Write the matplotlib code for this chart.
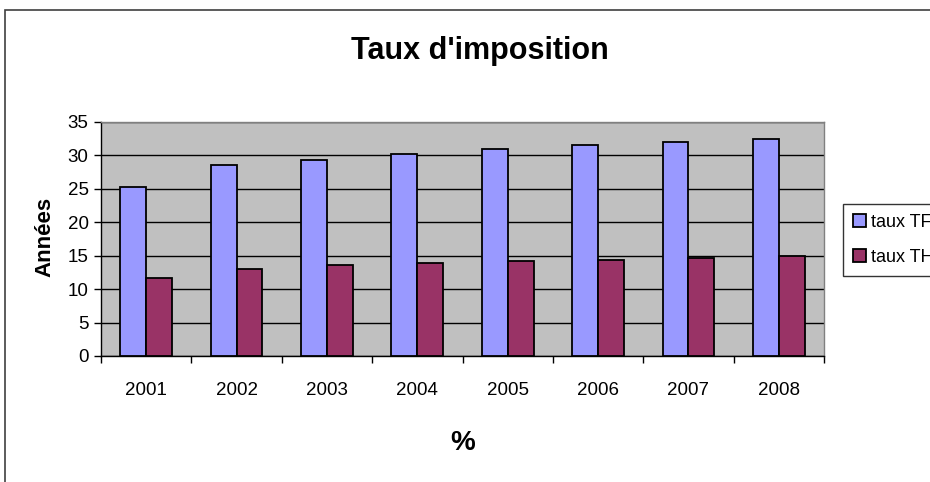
import matplotlib
matplotlib.use("Agg")
import matplotlib.pyplot as plt
from matplotlib.patches import Rectangle
import numpy as np

plt.rcParams['font.family'] = ['Liberation Sans', 'DejaVu Sans']

years = ["2001", "2002", "2003", "2004", "2005", "2006", "2007", "2008"]
taux_tf = [25.3, 28.5, 29.3, 30.2, 30.9, 31.5, 32.0, 32.5]
taux_th = [11.7, 13.0, 13.6, 13.9, 14.2, 14.4, 14.7, 15.0]
series_names = ["taux TF", "taux TH"]
yticks = [0, 5, 10, 15, 20, 25, 30, 35]

W, H = 930, 482
fig = plt.figure(figsize=(W / 100, H / 100), dpi=100)
fig.patch.set_facecolor("white")

ax = fig.add_axes([101 / W, 1 - 356 / H, (824 - 101) / W, (356 - 122) / H])
ax.set_facecolor("#C0C0C0")

x = np.arange(len(years))
bw = 1 / 3.5
ax.bar(x - bw / 2, taux_tf, width=bw, color="#9999FF", edgecolor="black", linewidth=1.3, label=series_names[0], zorder=3)
ax.bar(x + bw / 2, taux_th, width=bw, color="#993366", edgecolor="black", linewidth=1.3, label=series_names[1], zorder=3)

ax.set_xlim(-0.5, len(years) - 0.5)
ax.set_ylim(0, 35)
ax.set_yticks(yticks)
ax.set_yticklabels([str(v) for v in yticks], fontsize=13.5)
ax.yaxis.grid(True, color="black", linewidth=1, zorder=1)
ax.set_axisbelow(True)

# x ticks at boundaries, labels at centers
ax.set_xticks(np.arange(len(years) + 1) - 0.5)
ax.set_xticklabels([])
ax.set_xticks(x, minor=True)
ax.set_xticklabels(years, minor=True, fontsize=13.5)
ax.tick_params(axis="x", which="minor", length=0, pad=19)
ax.tick_params(axis="x", which="major", length=5, width=1, direction="out")
ax.tick_params(axis="y", length=5, width=1, direction="out", pad=4)

for s in ["top", "right"]:
    ax.spines[s].set_color("#808080")
    ax.spines[s].set_linewidth(1)
for s in ["left", "bottom"]:
    ax.spines[s].set_color("black")
    ax.spines[s].set_linewidth(1)

fig.text(480 / W, 1 - 51 / H, "Taux d'imposition", fontsize=22, fontweight="bold", ha="center", va="center")
fig.text(45 / W, 1 - 237 / H, "Années", fontsize=16, fontweight="bold", ha="center", va="center", rotation=90)
fig.text(463 / W, 1 - 443 / H, "%", fontsize=20, fontweight="bold", ha="center", va="center")

leg = ax.legend(loc="upper left", bbox_to_anchor=(843 / W, 1 - 204 / H), bbox_transform=fig.transFigure,
                fontsize=13, frameon=True, fancybox=False, shadow=False, borderaxespad=0,
                handlelength=0.7, handleheight=0.7, handletextpad=0.3, labelspacing=1.0,
                borderpad=0.55)
leg.get_frame().set_edgecolor("black")
leg.get_frame().set_linewidth(1)

fig.patches.append(Rectangle((4.5 / W, -0.5), 2.0, 1.5 - 9.5 / H, transform=fig.transFigure,
                             fill=False, edgecolor="#404040", linewidth=1.2))

fig.savefig("out.png", dpi=100)
